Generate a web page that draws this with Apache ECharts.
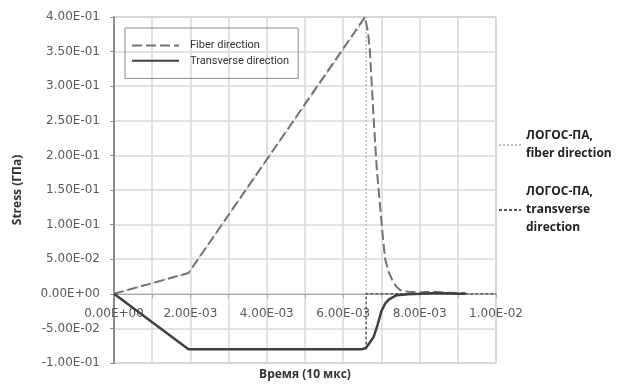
<!DOCTYPE html>
<html>
<head>
<meta charset="utf-8">
<script src="https://cdn.jsdelivr.net/npm/echarts@6/dist/echarts.min.js"></script>
<style>
  html, body { margin: 0; padding: 0; background: #fff; }
  #chart { width: 627px; height: 384px; }
</style>
</head>
<body>
<div id="chart"></div>
<script>
// Fiber direction (dashed)
var fiberTime   = [0, 0.00195, 0.00657, 0.00665, 0.0067, 0.00675, 0.0068, 0.00688, 0.00696, 0.00705, 0.0071, 0.0072, 0.0073, 0.0074, 0.0075, 0.0077, 0.008, 0.0083, 0.0086, 0.009, 0.0092];
var fiberStress = [0, 0.03, 0.4, 0.378, 0.35, 0.3, 0.25, 0.18, 0.13, 0.075, 0.05, 0.03, 0.018, 0.01, 0.005, 0.003, 0.002, 0.003, 0.002, 0.001, 0.001];

// Transverse direction (solid)
var transTime   = [0, 0.00195, 0.0065, 0.0066, 0.0068, 0.0069, 0.007, 0.0071, 0.0072, 0.0074, 0.0077, 0.008, 0.0085, 0.009, 0.0092];
var transStress = [0, -0.08, -0.08, -0.078, -0.062, -0.045, -0.025, -0.014, -0.008, -0.002, -0.0005, 0, 0.001, 0, 0];

// ЛОГОС-ПА reference curves
var logosFiberTime   = [0, 0.00195, 0.0066, 0.0066, 0.01];
var logosFiberStress = [0, 0.03, 0.4, 0, 0];
var logosTransTime   = [0, 0.00195, 0.0066, 0.0066, 0.01];
var logosTransStress = [0, -0.08, -0.08, 0, 0];

var seriesNames = ['Fiber direction', 'Transverse direction', 'ЛОГОС-ПА,\nfiber direction', 'ЛОГОС-ПА,\ntransverse\ndirection'];

function zip(xs, ys) {
    var out = [];
    for (var i = 0; i < xs.length; i++) {
        out.push([xs[i], ys[i]]);
    }
    return out;
}

// 4.00E-01 style labels
function sci(v) {
    var s = Number(v).toExponential(2).toUpperCase();
    var parts = s.split('E');
    var e = parseInt(parts[1], 10);
    var sign = e < 0 ? '-' : '+';
    var digits = Math.abs(e) < 10 ? '0' + Math.abs(e) : '' + Math.abs(e);
    return parts[0] + 'E' + sign + digits;
}

var myChart = echarts.init(document.getElementById('chart'));

// plot area: top 17, bottom 363 -> zero line sits 8/10 of the way down
var gridTop = 17, gridBottom = 21, chartH = 384;
var plotH = chartH - gridTop - gridBottom;
var zeroOffset = plotH * 0.1 / 0.5;

var tickFont = { fontFamily: 'DejaVu Sans', fontSize: 12, color: '#595959' };
var rightLegendText = {
    fontFamily: 'Open Sans', fontSize: 12, fontWeight: 'bold', color: '#222',
    lineHeight: 18
};

var option = {
    animation: false,
    backgroundColor: '#fff',
    grid: {
        left: 114, right: 131, top: gridTop, bottom: gridBottom,
        containLabel: false,
        outerBoundsMode: 'none',
        show: true, borderColor: '#a6a6a6', borderWidth: 1
    },
    legend: [{
        data: [seriesNames[0], seriesNames[1]],
        orient: 'vertical',
        left: 125, top: 28,
        padding: [12, 9, 12, 6],
        itemGap: 4,
        itemWidth: 47, itemHeight: 14,
        borderColor: '#8c8c8c', borderWidth: 1,
        itemStyle: { opacity: 0 },
        textStyle: { fontFamily: 'Roboto', fontSize: 11, color: '#333', padding: [0, 0, 0, 6] }
    }, {
        data: [seriesNames[2]],
        left: 498, top: 118,
        padding: 0,
        itemWidth: 22, itemHeight: 6, itemGap: 0,
        itemStyle: { opacity: 0 },
        textStyle: Object.assign({ padding: [18, 0, 0, 0] }, rightLegendText)
    }, {
        data: [seriesNames[3]],
        left: 498, top: 165,
        padding: 0,
        itemWidth: 22, itemHeight: 6, itemGap: 0,
        itemStyle: { opacity: 0 },
        textStyle: Object.assign({ padding: [36, 0, 0, 0] }, rightLegendText)
    }],
    xAxis: {
        type: 'value',
        min: 0, max: 0.01, interval: 0.001,
        offset: -zeroOffset,
        name: 'Время (10 мкс)',
        nameLocation: 'middle',
        nameGap: 75,
        nameTextStyle: { fontFamily: 'Open Sans', fontSize: 12, fontWeight: 'bold', color: '#333' },
        axisLine: { onZero: false, lineStyle: { color: '#a6a6a6', width: 1 } },
        axisTick: { show: true, inside: false, length: 4, lineStyle: { color: '#a6a6a6' } },
        axisLabel: Object.assign({
            margin: 14,
            formatter: function (v) {
                return Math.round(v / 0.001) % 2 === 0 ? sci(v) : '';
            }
        }, tickFont),
        splitLine: { show: true, lineStyle: { color: '#d9d9d9', width: 1.5 } }
    },
    yAxis: {
        type: 'value',
        min: -0.1, max: 0.4, interval: 0.05,
        name: 'Stress (ГПа)',
        nameLocation: 'middle',
        nameGap: 90,
        nameTextStyle: { fontFamily: 'Open Sans', fontSize: 12, fontWeight: 'bold', color: '#333' },
        axisLine: { show: true, onZero: false, lineStyle: { color: '#8c8c8c', width: 2 } },
        axisTick: { show: true, length: 4, lineStyle: { color: '#8c8c8c' } },
        axisLabel: Object.assign({ margin: 14, formatter: sci }, tickFont),
        splitLine: { show: true, lineStyle: { color: '#d9d9d9', width: 1.5 } }
    },
    series: [{
        name: seriesNames[2],
        type: 'line',
        data: zip(logosFiberTime, logosFiberStress),
        symbol: 'none',
        lineStyle: { color: '#bdbdbd', width: 1.5, type: [2, 2] },
        itemStyle: { color: '#bdbdbd' },
        z: 2
    }, {
        name: seriesNames[3],
        type: 'line',
        data: zip(logosTransTime, logosTransStress),
        symbol: 'none',
        lineStyle: { color: '#595959', width: 1.5, type: [3, 2] },
        itemStyle: { color: '#595959' },
        z: 2
    }, {
        name: seriesNames[0],
        type: 'line',
        data: zip(fiberTime, fiberStress),
        symbol: 'none',
        lineStyle: { color: '#737373', width: 2, type: [10, 4] },
        itemStyle: { color: '#737373' },
        z: 3
    }, {
        name: seriesNames[1],
        type: 'line',
        data: zip(transTime, transStress),
        symbol: 'none',
        lineStyle: { color: '#404040', width: 2.5, type: 'solid' },
        itemStyle: { color: '#404040' },
        z: 3
    }]
};

myChart.setOption(option);
</script>
</body>
</html>
